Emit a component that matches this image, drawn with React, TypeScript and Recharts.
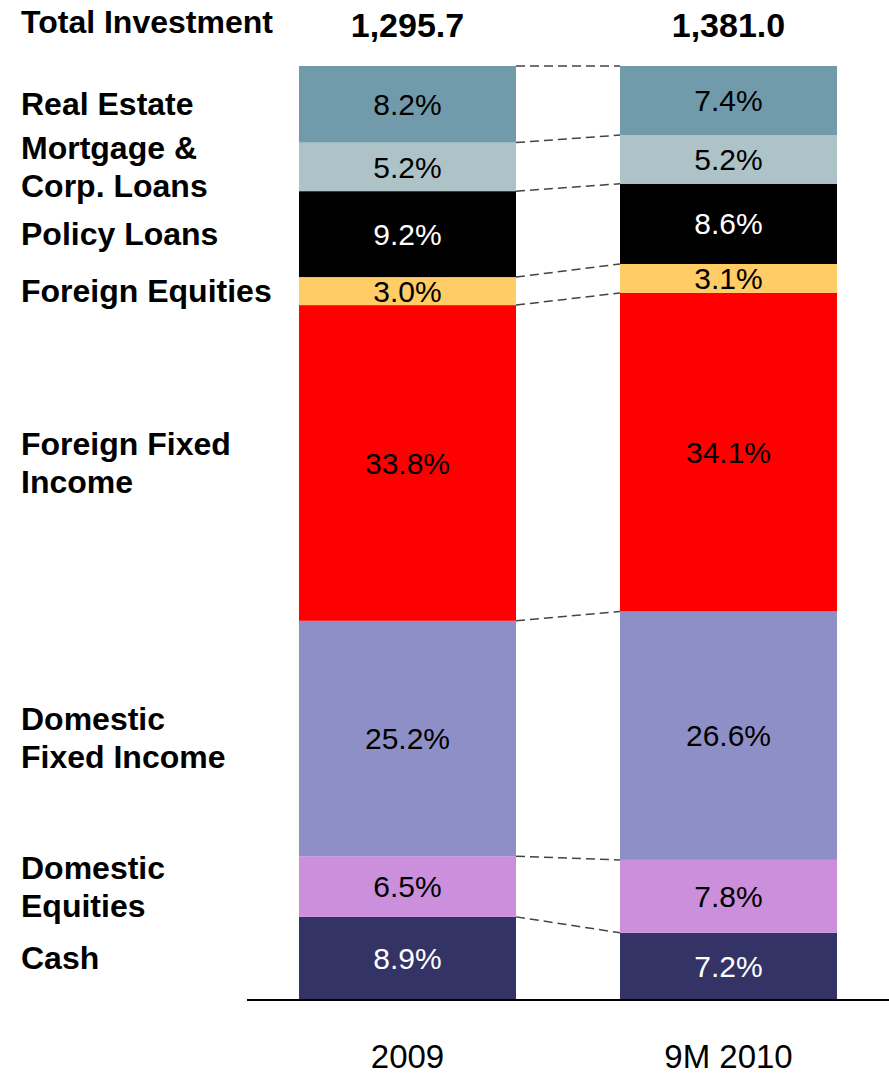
import React from "react";
import { BarChart, Bar, XAxis, YAxis, LabelList, Label } from "recharts";

const PERIODS = ["2009", "9M 2010"];
const TOTALS = ["1,295.7", "1,381.0"];
const SERIES = ["cash", "domEq", "domFI", "forFI", "forEq", "policy", "mortgage", "realEstate"];
const SERIES_LABELS = [
  ["Cash"],
  ["Domestic", "Equities"],
  ["Domestic", "Fixed Income"],
  ["Foreign Fixed", "Income"],
  ["Foreign Equities"],
  ["Policy Loans"],
  ["Mortgage &", "Corp. Loans"],
  ["Real Estate"],
];
const VALUES_2009 = [8.9, 6.5, 25.2, 33.8, 3.0, 9.2, 5.2, 8.2];
const VALUES_2010 = [7.2, 7.8, 26.6, 34.1, 3.1, 8.6, 5.2, 7.4];

const COLORS = ["#333366", "#cc8fdc", "#8f8fc7", "#ff0000", "#ffcc66", "#000000", "#adc3c8", "#719baa"];
const TEXT_COLORS = ["#ffffff", "#000000", "#000000", "#000000", "#000000", "#ffffff", "#000000", "#000000"];

const FONT = "'Liberation Sans', Arial, Helvetica, sans-serif";
const W = 889;
const H = 1074;
const Y_AXIS_W = 247;
const BAND = (W - Y_AXIS_W) / PERIODS.length;

const ALL_VALUES = [VALUES_2009, VALUES_2010];
const data = PERIODS.map((name, i) => {
  const row: any = { name };
  SERIES.forEach((k, j) => (row[k] = ALL_VALUES[i][j]));
  return row;
});

const cumTop = (vals: number[], j: number) => vals.slice(0, j + 1).reduce((a, b) => a + b, 0);
const MIDS_2009 = VALUES_2009.map((v, j) => cumTop(VALUES_2009, j) - v / 2);

// draws the segment, and for the first bar a dashed connector to the same boundary in the next bar
const makeShape = (j: number) => (props: any) => {
  const { x, y, width, height, index } = props;
  const rect = <rect x={x} y={y} width={width} height={height} fill={COLORS[j]} />;
  if (index !== 0) return rect;
  const ppp = height / VALUES_2009[j];
  const y2 = y + (cumTop(VALUES_2009, j) - cumTop(VALUES_2010, j)) * ppp;
  return (
    <g>
      {rect}
      <line
        x1={x + width}
        y1={y}
        x2={x + BAND}
        y2={y2}
        stroke="#444"
        strokeWidth={1.5}
        strokeDasharray="9 5"
      />
    </g>
  );
};

const LeftTick = (props: any) => {
  const { y, payload } = props;
  const j = MIDS_2009.findIndex((m) => Math.abs(m - payload.value) < 1e-6);
  const lines = SERIES_LABELS[j] || [];
  const lh = 38;
  return (
    <text x={21} y={y} fontSize={32} fontWeight="bold" fill="#000" dominantBaseline="central">
      {lines.map((l, i) => (
        <tspan key={i} x={21} dy={i === 0 ? -((lines.length - 1) * lh) / 2 : lh}>
          {l}
        </tspan>
      ))}
    </text>
  );
};

const BottomTick = (props: any) => {
  const { x, y, payload } = props;
  return (
    <text x={x} y={y + 48} fontSize={33} fill="#000" textAnchor="middle" dominantBaseline="central">
      {payload.value}
    </text>
  );
};

const TotalLabel = (props: any) => {
  const { x, y, width, index } = props;
  return (
    <text
      x={x + width / 2}
      y={y - 41}
      fontSize={34}
      fontWeight="bold"
      fill="#000"
      textAnchor="middle"
      dominantBaseline="central"
    >
      {TOTALS[index]}
    </text>
  );
};

export default function App() {
  return (
    <div style={{ width: W, height: H, fontFamily: FONT }}>
      <style>{`body{margin:0}`}</style>
      <BarChart
        width={W}
        height={H}
        data={data}
        margin={{ top: 66, right: 0, bottom: 0, left: 0 }}
        barSize={217}
      >
        <XAxis
          dataKey="name"
          height={74}
          axisLine={{ stroke: "#000", strokeWidth: 2 }}
          tickLine={false}
          tick={<BottomTick />}
          interval={0}
        />
        <YAxis
          type="number"
          domain={[0, 100]}
          width={Y_AXIS_W}
          ticks={MIDS_2009}
          interval={0}
          axisLine={false}
          tickLine={false}
          tick={<LeftTick />}
        >
          <Label
            content={(p: any) => (
              <text
                x={21}
                y={(p.viewBox?.y ?? 66) - 44}
                fontSize={32}
                fontWeight="bold"
                fill="#000"
                dominantBaseline="central"
              >
                Total Investment
              </text>
            )}
          />
        </YAxis>
        {SERIES.map((k, j) => (
          <Bar
            key={k}
            dataKey={k}
            stackId="a"
            fill={COLORS[j]}
            shape={makeShape(j)}
            isAnimationActive={false}
          >
            <LabelList
              dataKey={k}
              position="center"
              fill={TEXT_COLORS[j]}
              fontSize={30}
              formatter={(v: any) => `${Number(v).toFixed(1)}%`}
            />
            {j === SERIES.length - 1 && <LabelList dataKey={k} content={<TotalLabel />} />}
          </Bar>
        ))}
      </BarChart>
    </div>
  );
}
